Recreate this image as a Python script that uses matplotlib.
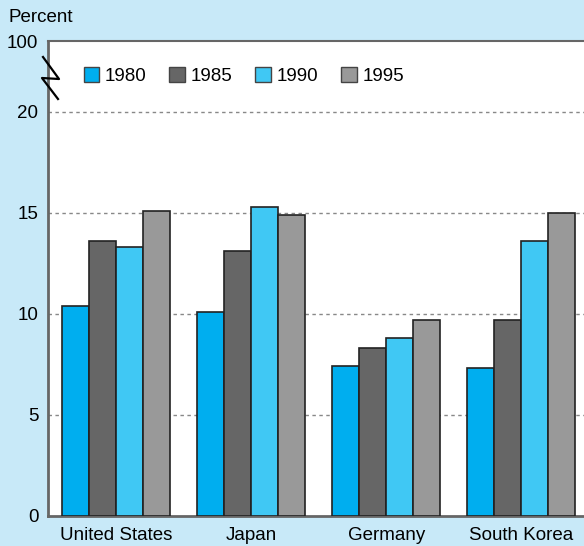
import numpy as np
import matplotlib.pyplot as plt
from matplotlib.lines import Line2D

plt.rcParams['font.family'] = ['Liberation Sans', 'DejaVu Sans']

countries = ['United States', 'Japan', 'Germany', 'South Korea']
years = ['1980', '1985', '1990', '1995']
v1980 = [10.4, 10.1, 7.4, 7.3]
v1985 = [13.6, 13.1, 8.3, 9.7]
v1990 = [13.3, 15.3, 8.8, 13.6]
v1995 = [15.1, 14.9, 9.7, 15.0]
series = [v1980, v1985, v1990, v1995]
colors = ['#00aeef', '#666666', '#40c8f4', '#999999']
yticks = [0, 5, 10, 15, 20, 23.5]
yticklabels = ['0', '5', '10', '15', '20', '100']

W, H = 584, 546
bg = '#c8e9f8'
fig = plt.figure(figsize=(W / 100, H / 100), dpi=100, facecolor=bg)

# axes in pixel coordinates (extends past right edge, as in the cropped original)
left, right, top, bottom = 48, 589, 41, 516
ax = fig.add_axes([left / W, 1 - bottom / H, (right - left) / W, (bottom - top) / H])
ax.set_facecolor('white')

x = np.arange(len(countries))
width = 0.2
for i, (vals, c, yr) in enumerate(zip(series, colors, years)):
    ax.bar(x + (i - 1.5) * width, vals, width, color=c, edgecolor='#222222',
           linewidth=1.2, label=yr, zorder=3)

ax.set_xlim(-0.504, 3.5)
ax.set_ylim(0, 23.5)
ax.set_yticks(yticks)
ax.set_yticklabels(yticklabels, fontsize=13.5)
ax.set_xticks(x)
ax.set_xticklabels(countries, fontsize=13.5)
ax.tick_params(axis='y', length=0, pad=7)
ax.tick_params(axis='x', length=0, pad=8)

for yv in [5, 10, 15, 20]:
    ax.axhline(yv, color='#888888', linestyle=(0, (2.5, 2.5)), linewidth=1, zorder=1)

for s in ['left', 'bottom', 'top']:
    ax.spines[s].set_color('#666666')
    ax.spines[s].set_linewidth(2)
ax.spines['top'].set_linewidth(1.5)
ax.spines['right'].set_visible(False)

fig.text(8 / W, 1 - 18 / H, 'Percent', fontsize=13.5, va='center', ha='left')

# axis break zigzag
zx = [43, 59, 42, 58]
zy = [57, 79, 78, 99]
fig.add_artist(Line2D([p / W for p in zx], [1 - p / H for p in zy],
                      color='black', linewidth=1.6, transform=fig.transFigure))

leg = ax.legend(loc='center left', bbox_to_anchor=(76 / W, 1 - 76 / H),
                bbox_transform=fig.transFigure, ncol=4, frameon=False,
                fontsize=13.5, handlelength=0.85, handleheight=0.85,
                handletextpad=0.3, columnspacing=1.2, borderaxespad=0)
for p in leg.get_patches():
    p.set_edgecolor('#444444')
    p.set_linewidth(1)

fig.savefig('out.png', dpi=100, facecolor=bg)
